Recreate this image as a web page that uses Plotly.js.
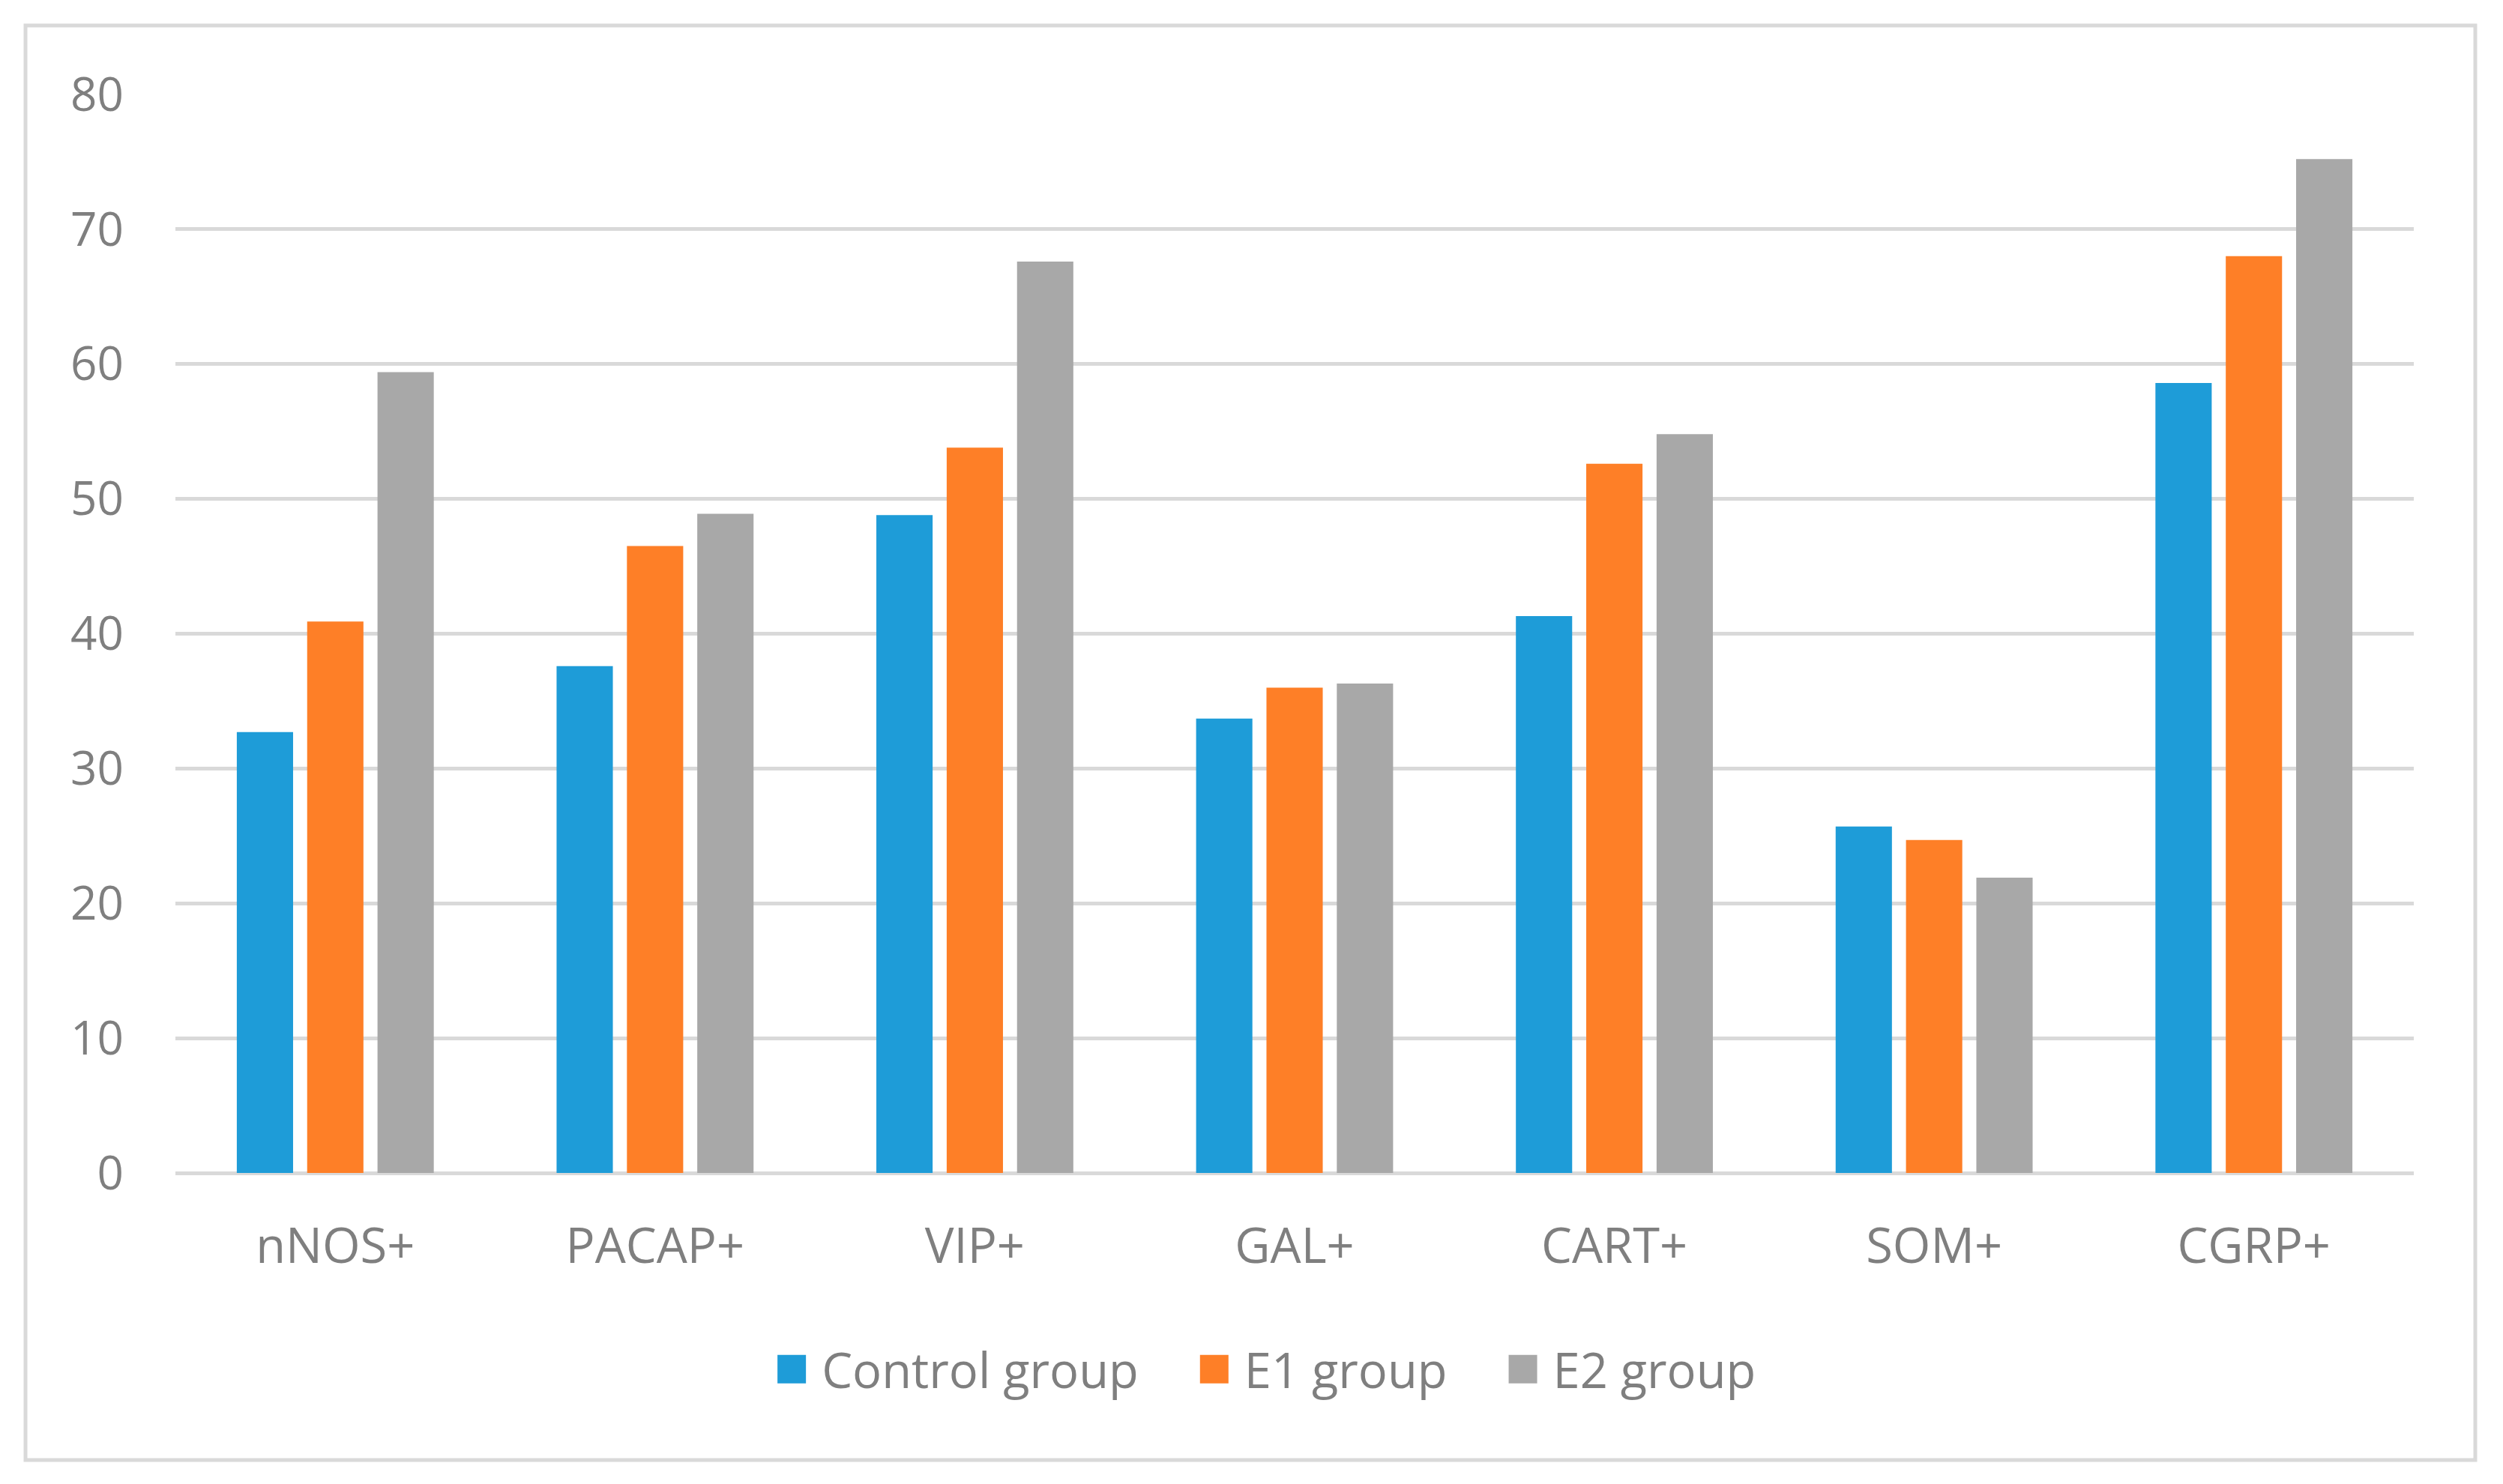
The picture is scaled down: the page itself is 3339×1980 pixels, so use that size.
<!DOCTYPE html>
<html>
<head>
<meta charset="utf-8">
<script src="https://cdn.plot.ly/plotly-3.0.1.min.js"></script>
<style>
  html, body { margin: 0; padding: 0; background: #ffffff; }
  #chart { width: 3339px; height: 1980px; }
</style>
</head>
<body>
<div id="chart"></div>
<script>
const categories = ["nNOS+", "PACAP+", "VIP+", "GAL+", "CART+", "SOM+", "CGRP+"];
const seriesNames = ["Control group", "E1 group", "E2 group"];
const controlValues = [32.7, 37.6, 48.8, 33.7, 41.3, 25.7, 58.6];
const e1Values = [40.9, 46.5, 53.8, 36.0, 52.6, 24.7, 68.0];
const e2Values = [59.4, 48.9, 67.6, 36.3, 54.8, 21.9, 75.2];
const yTicks = [0, 10, 20, 30, 40, 50, 60, 70, 80];

const colors = ["#1e9cd8", "#fe7f27", "#a8a8a8"];
const textColor = "#7f7f7f";
const fontFamily = "'Open Sans', 'Noto Sans', sans-serif";

const W = 3339, H = 1980;
const mL = 234, mR = 119, mT = 126, mB = 415;
const plotW = W - mL - mR, plotH = H - mT - mB;
const px2x = p => (p - mL) / plotW;
const px2y = p => (H - mB - p) / plotH;

const allValues = [controlValues, e1Values, e2Values];
const traces = allValues.map((vals, i) => ({
  type: "bar",
  name: seriesNames[i],
  x: categories,
  y: vals,
  marker: { color: colors[i], line: { width: 0 } },
  hoverinfo: "x+y+name"
}));

const layout = {
  width: W,
  height: H,
  paper_bgcolor: "#ffffff",
  plot_bgcolor: "#ffffff",
  margin: { l: mL, r: mR, t: mT, b: mB, pad: 0 },
  barmode: "group",
  bargap: 0.34,
  bargroupgap: 0.2,
  font: { family: fontFamily, color: textColor, size: 64 },
  xaxis: {
    type: "category",
    showgrid: false,
    showline: false,
    zeroline: false,
    ticks: "",
    tickfont: { family: fontFamily, size: 65, color: textColor },
    ticklabelstandoff: 54
  },
  yaxis: {
    range: [0, 80],
    tickvals: yTicks,
    ticktext: yTicks.map(String),
    showgrid: true,
    gridcolor: "#d9d9d9",
    gridwidth: 5,
    zeroline: true,
    zerolinecolor: "#d9d9d9",
    zerolinewidth: 5,
    showline: false,
    ticks: "",
    tickfont: { family: fontFamily, size: 62, color: textColor },
    ticklabelstandoff: 68
  },
  legend: {
    orientation: "h",
    x: 0.4756,
    xanchor: "center",
    y: px2y(1827),
    yanchor: "middle",
    font: { family: fontFamily, size: 65, color: textColor },
    itemwidth: 126,
    traceorder: "normal",
    bgcolor: "rgba(0,0,0,0)"
  },
  shapes: [{
    type: "rect",
    xref: "paper", yref: "paper",
    x0: px2x(34), x1: px2x(3302),
    y0: px2y(1948), y1: px2y(34),
    line: { color: "#d9d9d9", width: 5 },
    fillcolor: "rgba(0,0,0,0)",
    layer: "below"
  }]
};

Plotly.newPlot("chart", traces, layout, { displayModeBar: false, staticPlot: true }).then(gd => {
  // Larger legend swatches placed just before each label, as in the reference
  const half = 19, gap = 21;
  gd.querySelectorAll(".legend .traces").forEach(tr => {
    const txt = tr.querySelector(".legendtext");
    const path = tr.querySelector(".legendpoints path");
    if (!txt || !path) return;
    const textLeft = txt.getBoundingClientRect().left;
    const ctm = path.getScreenCTM();
    const right = (textLeft - gap) - ctm.e;
    const left = right - 2 * half;
    path.setAttribute("d", `M${right},${half}H${left}V${-half}H${right}Z`);
  });
});
</script>
</body>
</html>
